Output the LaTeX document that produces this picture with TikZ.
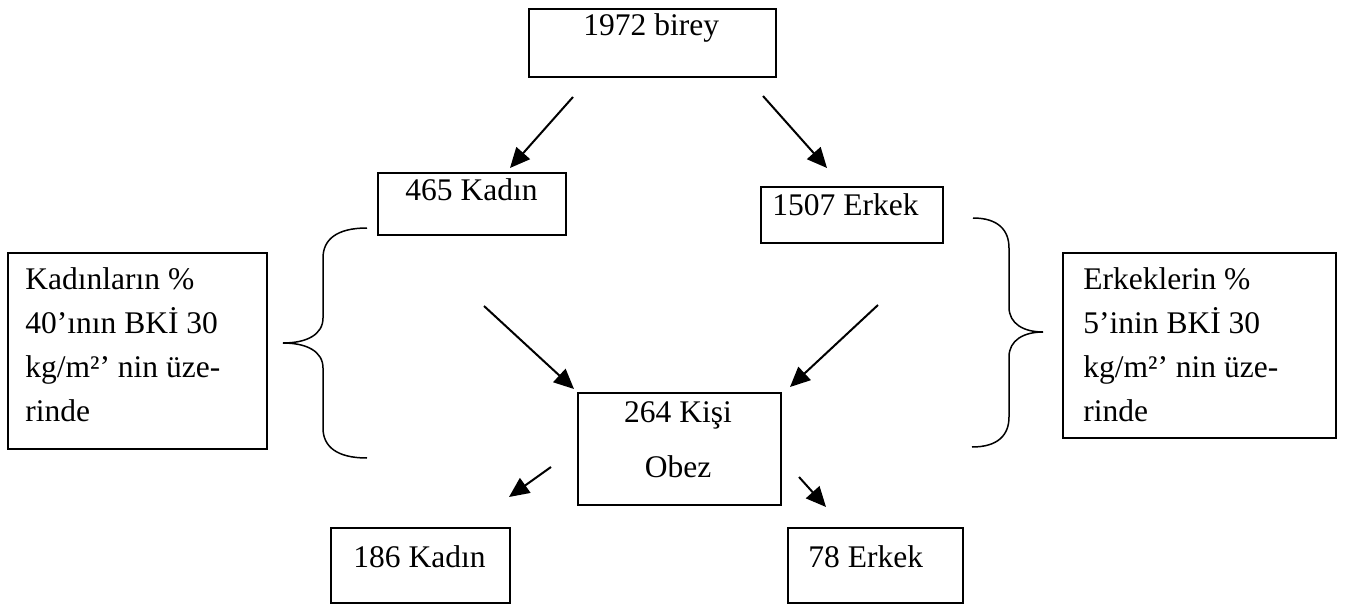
\documentclass[tikz,border=0pt]{standalone}
\usepackage{fontspec}
\setmainfont{Liberation Serif}
\usetikzlibrary{arrows.meta}
\begin{document}
\begin{tikzpicture}[x=0.5pt,y=-0.5pt,
  box/.style={draw, line width=1pt, rectangle, inner sep=0pt, anchor=north west},
  txt/.style={inner sep=0pt, anchor=base west, font=\fontsize{15.75pt}{22pt}\selectfont},
  ctxt/.style={inner sep=0pt, anchor=base, font=\fontsize{15.75pt}{22pt}\selectfont},
  flow/.style={line width=1pt, -{Triangle[length=10pt,width=9pt]}},
  brace/.style={line width=0.75pt}]
\useasboundingbox (0,0) rectangle (1346,605);

% boxes
\node[box, minimum width=123.5pt, minimum height=34pt] (total) at (528,8) {};
\node[box, minimum width=94pt, minimum height=31pt] (kadin) at (377,172) {};
\node[box, minimum width=91pt, minimum height=28pt] (erkek) at (760,186) {};
\node[box, minimum width=129.5pt, minimum height=98pt] (knote) at (7,252) {};
\node[box, minimum width=136.5pt, minimum height=92.5pt] (enote) at (1062,252) {};
\node[box, minimum width=101.5pt, minimum height=56pt] (obez) at (577,392) {};
\node[box, minimum width=89.5pt, minimum height=37.5pt] (okadin) at (330,527) {};
\node[box, minimum width=87.5pt, minimum height=37.5pt] (oerkek) at (787,527) {};

% box texts
\node[txt] (total-t) at (583,35) {1972 birey};
\node[txt] (kadin-t) at (405,200) {465 Kadın};
\node[txt] (erkek-t) at (772,215) {1507 Erkek};
\node[txt] (knote-1) at (25,289) {Kadınların \%};
\node[txt] (knote-2) at (25,333) {40’ının BKİ 30};
\node[txt] (knote-3) at (25,377) {kg/m²’ nin üze-};
\node[txt] (knote-4) at (25,421) {rinde};
\node[txt] (enote-1) at (1083,289) {Erkeklerin \%};
\node[txt] (enote-2) at (1083,333) {5’inin BKİ 30};
\node[txt] (enote-3) at (1083,377) {kg/m²’ nin üze-};
\node[txt] (enote-4) at (1083,421) {rinde};
\node[ctxt] (obez-1) at (678,422) {264 Kişi};
\node[ctxt] (obez-2) at (678,477) {Obez};
\node[txt] (okadin-t) at (353,567) {186 Kadın};
\node[txt] (oerkek-t) at (808,567) {78 Erkek};

% arrow end points
\coordinate (a1s) at (573,97);  \coordinate (a1e) at (510,168);
\coordinate (a2s) at (763,96);  \coordinate (a2e) at (827,168);
\coordinate (a3s) at (484,306); \coordinate (a3e) at (574,389);
\coordinate (a4s) at (878,305); \coordinate (a4e) at (790,387);
\coordinate (a5s) at (551,467); \coordinate (a5e) at (509,497);
\coordinate (a6s) at (799,477); \coordinate (a6e) at (826,507);

\draw[flow] (a1s) -- (a1e);
\draw[flow] (a2s) -- (a2e);
\draw[flow] (a3s) -- (a3e);
\draw[flow] (a4s) -- (a4e);
\draw[flow] (a5s) -- (a5e);
\draw[flow] (a6s) -- (a6e);

% braces
\draw[brace] (367,228) .. controls (336,228) and (323,240) .. (323,258) -- (323,318)
  .. controls (323,335) and (306,343) .. (283,343)
  .. controls (306,343) and (323,351) .. (323,368) -- (323,428)
  .. controls (323,446) and (336,458) .. (367,458);
\draw[brace] (973,218) .. controls (998,218) and (1009,230) .. (1009,248) -- (1009,307)
  .. controls (1009,324) and (1024,332) .. (1043,332)
  .. controls (1024,332) and (1009,340) .. (1009,357) -- (1009,417)
  .. controls (1009,435) and (998,447) .. (972,447);
\end{tikzpicture}
\end{document}
